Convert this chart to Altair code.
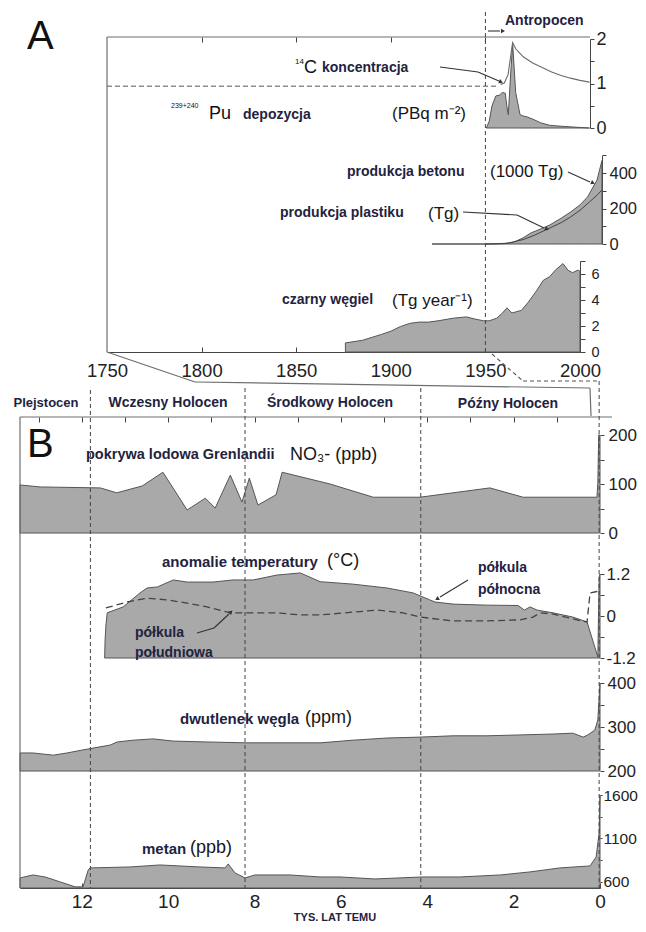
import altair as alt
import pandas as pd

# ---------------- Panel A data (calendar years) ----------------
pu_year = [1950.5, 1952, 1953.5, 1955.5, 1957.5, 1959, 1960.5, 1961.3, 1962.1, 1963.2, 1964.4, 1966, 1968.3, 1970, 1972, 1975, 1979, 1984, 1990, 1997, 2005]
pu_val = [0, 0.15, 0.5, 0.72, 0.74, 0.8, 0.78, 0.5, 0.3, 1.1, 1.9, 0.8, 0.3, 0.27, 0.25, 0.2, 0.12, 0.06, 0.04, 0.02, 0.0]

c14_pre_year = [1750, 1957]
c14_pre_val = [0.94, 0.94]
c14_year = [1958, 1960, 1962, 1963.3, 1964.4, 1966, 1970, 1975, 1980, 1985, 1990, 1995, 2000, 2005]
c14_val = [0.98, 1.01, 1.2, 1.6, 1.92, 1.78, 1.6, 1.46, 1.36, 1.26, 1.18, 1.12, 1.07, 1.03]

concrete_year = [1921.8, 1950, 1960, 1965, 1970, 1974, 1980, 1984, 1990, 1995, 2000, 2004, 2009, 2011.6]
concrete_val = [0, 0, 2, 10, 35, 62, 88, 107, 145, 180, 220, 265, 360, 470]

plastic_year = [1950, 1955, 1962, 1970, 1976, 1983, 1990, 1995, 2000, 2005, 2009, 2011.6]
plastic_val = [0, 1, 5, 25, 50, 85, 120, 152, 190, 237, 275, 304]

bc_year = [1876, 1885, 1895, 1900, 1905, 1910, 1915, 1920, 1925, 1933, 1940, 1944, 1949, 1952, 1956, 1959, 1961.4, 1964, 1969, 1972.5, 1977, 1980.5, 1984, 1987, 1991, 1993.6, 1996, 1999, 2000]
bc_val = [0.7, 0.9, 1.35, 1.6, 1.95, 2.2, 2.3, 2.3, 2.4, 2.6, 2.7, 2.55, 2.4, 2.4, 2.6, 3.0, 3.4, 3.0, 3.2, 3.8, 4.7, 5.5, 5.8, 6.3, 6.8, 6.3, 6.1, 6.3, 6.2]

# ---------------- Panel B data (thousand years ago) ----------------
no3_kyr = [13.43, 12.96, 11.57, 11.19, 10.6, 10.12, 9.56, 9.14, 8.91, 8.56, 8.29, 8.12, 7.92, 7.5, 7.36, 6.25, 5.25, 4.17, 2.55, 1.78, 0.07, 0.05, 0.03, 0.0]
no3_val = [98, 94, 92, 82, 96, 124, 47, 71, 51, 118, 63, 112, 57, 78, 124, 100, 73, 73, 92, 73, 73, 103, 200, 200]

tnh_kyr = [11.47, 11.46, 11.44, 11.41, 11.04, 10.65, 10.49, 10.25, 9.88, 9.56, 8.96, 8.5, 8.03, 7.48, 6.94, 6.48, 5.72, 4.93, 4.33, 3.94, 3.82, 3.4, 2.62, 1.9, 1.75, 1.62, 1.46, 1.09, 0.63, 0.3, 0.12, 0.05, 0.02, 0.0]
tnh_val = [-1.2, -0.69, -0.26, 0.09, 0.26, 0.66, 0.8, 0.83, 1.03, 0.97, 0.97, 1.03, 1.03, 1.17, 1.23, 0.98, 0.91, 0.8, 0.66, 0.46, 0.4, 0.34, 0.31, 0.3, 0.17, 0.26, 0.17, 0.09, -0.03, -0.17, -0.89, -1.17, 1.1, 1.2]

tsh_kyr = [11.44, 10.95, 10.49, 10.02, 9.56, 9.1, 8.56, 8.03, 7.48, 6.94, 6.48, 5.72, 5.16, 4.56, 4.17, 3.4, 2.62, 1.85, 1.55, 1.39, 1.1, 0.7, 0.4, 0.3, 0.23, 0.07, 0.0]
tsh_val = [0.23, 0.4, 0.51, 0.46, 0.37, 0.26, 0.09, 0.09, 0.09, 0.03, 0.03, 0.11, 0.17, 0.09, -0.03, -0.14, -0.14, -0.11, -0.03, 0.09, 0.06, -0.06, -0.15, -0.17, 0.66, 0.7, 0.7]

co2_kyr = [13.43, 13.13, 12.66, 12.34, 11.97, 11.74, 11.34, 11.18, 10.81, 10.35, 9.88, 9.1, 8.22, 7.34, 6.48, 5.72, 4.93, 4.17, 3.4, 2.62, 1.85, 1.09, 0.63, 0.39, 0.28, 0.12, 0.05, 0.0]
co2_val = [241, 241, 236, 241, 248, 252, 259, 266, 270, 273, 268, 266, 264, 264, 264, 270, 275, 277, 280, 280, 282, 284, 286, 277, 282, 293, 316, 400]

ch4_kyr = [13.43, 13.13, 12.85, 12.5, 12.15, 11.97, 11.85, 11.81, 10.88, 10.19, 9.26, 8.68, 8.61, 8.45, 8.22, 7.99, 7.18, 6.48, 6.02, 5.21, 4.12, 3.24, 2.31, 1.62, 0.93, 0.23, 0.09, 0.02, 0.0]
ch4_val = [646, 680, 657, 600, 543, 543, 738, 761, 772, 795, 772, 761, 807, 703, 646, 680, 680, 657, 657, 634, 657, 657, 680, 715, 761, 784, 887, 1163, 1600]

epoch_kyr = [11.8, 8.22, 4.15]
anthro_year = 1950

# ---------------- layout helpers ----------------
W, H = 630, 915
FILL = "#a9a9a9"
EDGE = "#555555"
FRAME = "#6e6e6e"
AX = "#444444"
TXT = "#1f2340"
NUM_FONT = "Liberation Sans"
LBL_FONT = "Liberation Sans"

one = pd.DataFrame({"k": [0]})


def px(v):
    return v - 8


def sc(domain, page_lo, page_hi):
    return alt.Scale(domain=domain, range=[px(page_lo), px(page_hi)], nice=False, zero=False)


def year_sc():
    return sc([1750, 2000], 107, 580)


def kyr_sc():
    return sc([0, 13.43], 600, 20)


def lab_expr(labels):
    return f"indexof({labels}, datum.value) >= 0 ? '' + datum.value : ''"


def yaxis(page_x, values, labels, size, tick=4, pad=3, domain=True):
    return alt.Axis(orient="right", offset=px(page_x) - W, values=values,
                    labelExpr=lab_expr(labels), labelFontSize=size, labelFont=NUM_FONT,
                    labelColor="#222222", tickSize=tick, labelPadding=pad, domain=domain,
                    domainColor=AX, tickColor=AX, grid=False, title=None,
                    labelFlush=False, labelOverlap=False)


def xaxis(orient, page_y, values, labels=None, size=19, tick=0, pad=7, domain=False):
    off = px(page_y) - H if orient == "bottom" else -px(page_y)
    kw = dict(orient=orient, offset=off, values=values, domain=domain, domainColor=AX,
              tickColor=AX, grid=False, title=None, labelFlush=False, labelOverlap=False)
    if labels is None:
        kw["labels"] = False
    else:
        kw.update(labelExpr=lab_expr(labels), labelFontSize=size, labelFont=NUM_FONT,
                  labelColor="#222222", labelPadding=pad)
    if tick:
        kw.update(ticks=True, tickSize=tick)
    else:
        kw["ticks"] = False
    return alt.Axis(**kw)


def area(xv, yv, xs, ys, base, xax=None, yax=None):
    df = pd.DataFrame({"x": xv, "y": yv})
    return alt.Chart(df).mark_area(fill=FILL, stroke=EDGE, strokeWidth=1, opacity=1).encode(
        x=alt.X("x:Q", scale=xs, axis=xax),
        y=alt.Y("y:Q", scale=ys, axis=yax),
        y2=alt.datum(base),
    )


def line(xv, yv, xs, ys, color=EDGE, width=1.0, dash=None, xax=None, yax=None):
    df = pd.DataFrame({"x": xv, "y": yv})
    kw = dict(color=color, strokeWidth=width)
    if dash:
        kw["strokeDash"] = dash
    return alt.Chart(df).mark_line(**kw).encode(
        x=alt.X("x:Q", scale=xs, axis=xax),
        y=alt.Y("y:Q", scale=ys, axis=yax),
    )


def seg(x1, y1, x2, y2, color=FRAME, width=1.2, dash=None):
    kw = dict(color=color, strokeWidth=width)
    if dash:
        kw["strokeDash"] = dash
    return alt.Chart(one).mark_rule(**kw).encode(
        x=alt.value(px(x1)), y=alt.value(px(y1)), x2=alt.value(px(x2)), y2=alt.value(px(y2)))


def head(x, y, ang, size=22):
    return alt.Chart(one).mark_point(shape="triangle-right", filled=True, size=size, angle=ang,
                                     color="#333333", opacity=1).encode(
        x=alt.value(px(x)), y=alt.value(px(y)))


def txt(s, x, y, size=14, font=LBL_FONT, weight="bold", align="left", color=TXT):
    return alt.Chart(one).mark_text(text=s, align=align, baseline="middle", fontSize=size,
                                    font=font, fontWeight=weight, color=color).encode(
        x=alt.value(px(x)), y=alt.value(px(y)))


def ptxt(s, x, y, size=17):
    return txt(s, x, y, size=size, font=NUM_FONT, weight="normal", color="#161616")


def vdash_year(year, y1, y2):
    return alt.Chart(one).mark_rule(color="#444444", strokeWidth=1, strokeDash=[4, 3]).encode(
        x=alt.XDatum(year, scale=year_sc(), axis=None), y=alt.value(px(y1)), y2=alt.value(px(y2)))


def vdash_kyr(k, y1, y2):
    return alt.Chart(one).mark_rule(color="#444444", strokeWidth=1, strokeDash=[4, 3]).encode(
        x=alt.XDatum(k, scale=kyr_sc(), axis=None), y=alt.value(px(y1)), y2=alt.value(px(y2)))


layers = []

# ---------- Panel A ----------
pu_ys = sc([0, 2], 128, 39)
layers.append(area(pu_year, pu_val, year_sc(), pu_ys, 0,
                   xax=xaxis("bottom", 37, [1800, 1850, 1900, 1950], tick=5),
                   yax=yaxis(590, [0, 0.5, 1, 1.5, 2], [0, 1, 2], 18, tick=4, pad=2)))
layers.append(line(c14_pre_year, c14_pre_val, year_sc(), sc([0, 2], 128, 39), color="#555555", dash=[5, 3]))
layers.append(line(c14_year, c14_val, year_sc(), sc([0, 2], 128, 39), color="#6a6a6a", width=1.1))

layers.append(area(concrete_year, concrete_val, year_sc(), sc([0, 500], 244, 155.25), 0,
                   yax=yaxis(602, [0, 100, 200, 300, 400, 500], [0, 200, 400], 16.5, tick=4, pad=3)))
layers.append(line(plastic_year, plastic_val, year_sc(), sc([0, 500], 244, 155.25), color="#444444", width=1.0,
                   xax=xaxis("top", 352, [1800, 1850, 1900, 1950], tick=5)))

layers.append(area(bc_year, bc_val, year_sc(), sc([0, 7], 352, 261), 0,
                   xax=xaxis("bottom", 352, [1750, 1800, 1850, 1900, 1950, 2000],
                             labels=[1750, 1800, 1850, 1900, 1950, 2000], size=18.5, pad=9, domain=True),
                   yax=yaxis(580, [0, 1, 2, 3, 4, 5, 6, 7], [0, 2, 4, 6], 14.5, tick=5, pad=6)))

# ---------- Panel B ----------
layers.append(area(no3_kyr, no3_val, kyr_sc(), sc([0, 200], 533, 435), 0,
                   xax=xaxis("bottom", 417, list(range(1, 14)), tick=5),
                   yax=yaxis(600, [0, 50, 100, 150, 200], [0, 100, 200], 17, tick=4, pad=4, domain=False)))
layers.append(area(tnh_kyr, tnh_val, kyr_sc(), sc([-1.2, 1.2], 658, 574), -1.2,
                   yax=yaxis(600, [-1.2, -0.6, 0, 0.6, 1.2], [-1.2, 0, 1.2], 17, tick=4, pad=2, domain=False)))
layers.append(line(tsh_kyr, tsh_val, kyr_sc(), sc([-1.2, 1.2], 658, 574), color="#444444", width=1.3, dash=[7, 4]))
layers.append(area(co2_kyr, co2_val, kyr_sc(), sc([200, 400], 771, 683), 200,
                   xax=xaxis("top", 888, list(range(0, 14)), tick=5),
                   yax=yaxis(600, [200, 250, 300, 350, 400], [200, 300, 400], 17, tick=4, pad=3, domain=False)))
layers.append(area(ch4_kyr, ch4_val, kyr_sc(), sc([530, 1600], 888, 795), 530,
                   xax=xaxis("bottom", 888, [0, 2, 4, 6, 8, 10, 12], labels=[0, 2, 4, 6, 8, 10, 12],
                             size=19, pad=4, domain=True),
                   yax=yaxis(600, [600, 850, 1100, 1350, 1600], [600, 1100, 1600], 15.5, tick=2, pad=1, domain=False)))

# ---------- frames and connectors ----------
layers += [
    seg(107, 37, 107, 352),
    seg(107, 37, 590, 37),
    seg(107, 352, 195, 382),
    seg(195, 382, 590, 388),
    seg(590, 388, 591, 416),
    seg(492, 354, 523, 381, color="#555555", width=1.1, dash=[4, 3]),
    seg(523, 381, 600, 381, color="#555555", width=1.1, dash=[4, 3]),
    seg(20, 417, 612, 417),
    seg(20, 417, 20, 888),
    vdash_year(anthro_year, 12, 352),
]
for k, top in zip(epoch_kyr, [390, 388, 388]):
    layers.append(vdash_kyr(k, top, 888))
layers.append(vdash_kyr(0.02, 381, 888))

# arrows
layers += [
    seg(488, 31, 500, 31, color="#333333", width=1.1), head(503, 31, 0),
    seg(440, 67, 478, 72, color="#333333", width=1.1), seg(478, 72, 499, 81, color="#333333", width=1.1), head(501, 82, 23),
    seg(568, 172, 590, 182, color="#333333", width=1.1), head(593, 183, 24),
    seg(463, 212, 517, 215, color="#333333", width=1.1), seg(517, 215, 544, 228, color="#333333", width=1.1), head(547, 229, 26),
    seg(468, 580, 440, 597, color="#333333", width=1.1), head(437, 599, 149),
    seg(197, 633, 214, 628, color="#333333", width=1.1), seg(214, 628, 229, 614, color="#333333", width=1.1), head(231, 612, 317),
]

# ---------- texts ----------
layers += [
    txt("A", 27, 37, size=40, font=NUM_FONT, weight="normal", color="#111111"),
    txt("B", 27, 445, size=40, font=NUM_FONT, weight="normal", color="#111111"),
    txt("Antropocen", 505, 21, size=14),
    txt("14", 295, 62, size=8, font=NUM_FONT, weight="normal", color="#111111"),
    txt("C", 304, 68, size=18, font=NUM_FONT, weight="normal", color="#111111"),
    txt("koncentracja", 322, 68, size=14),
    txt("239+240", 171, 106, size=7, font=NUM_FONT, weight="normal", color="#111111"),
    txt("Pu", 209, 114, size=18, font=NUM_FONT, weight="normal", color="#111111"),
    txt("depozycja", 243, 115, size=14),
    ptxt("(PBq m\u207b\u00b2)", 392, 114, size=17),
    txt("produkcja betonu", 347, 172, size=14),
    ptxt("(1000 Tg)", 490, 172, size=17),
    txt("produkcja plastiku", 280, 213, size=14),
    ptxt("(Tg)", 428, 214, size=17),
    txt("czarny węgiel", 282, 300, size=14),
    ptxt("(Tg year\u207b\u00b9)", 392, 301, size=17),
    txt("Plejstocen", 46, 403, size=13, align="center"),
    txt("Wczesny Holocen", 168, 403, size=14, align="center"),
    txt("Środkowy Holocen", 330, 403, size=14, align="center"),
    txt("Późny Holocen", 508, 404, size=14, align="center"),
    txt("pokrywa lodowa Grenlandii", 86, 455, size=14.5),
    ptxt("NO\u2083- (ppb)", 290, 455, size=18),
    txt("anomalie temperatury", 162, 562, size=15),
    ptxt("(°C)", 327, 561, size=18),
    txt("półkula", 478, 568, size=14),
    txt("północna", 478, 590, size=14),
    txt("półkula", 135, 633, size=14),
    txt("południowa", 135, 653, size=14),
    txt("dwutlenek węgla", 180, 719, size=15),
    ptxt("(ppm)", 305, 718, size=18),
    txt("metan", 142, 849, size=15),
    ptxt("(ppb)", 190, 848, size=18),
    txt("TYS. LAT TEMU", 335, 918, size=11, align="center"),
]

chart = alt.layer(*layers).resolve_scale(x="independent", y="independent").properties(
    width=W, height=H, autosize="none", padding=0,
).configure_view(stroke=None).configure_axis(grid=False)

chart.save("out.html", embed_options={"renderer": "svg", "actions": False})
